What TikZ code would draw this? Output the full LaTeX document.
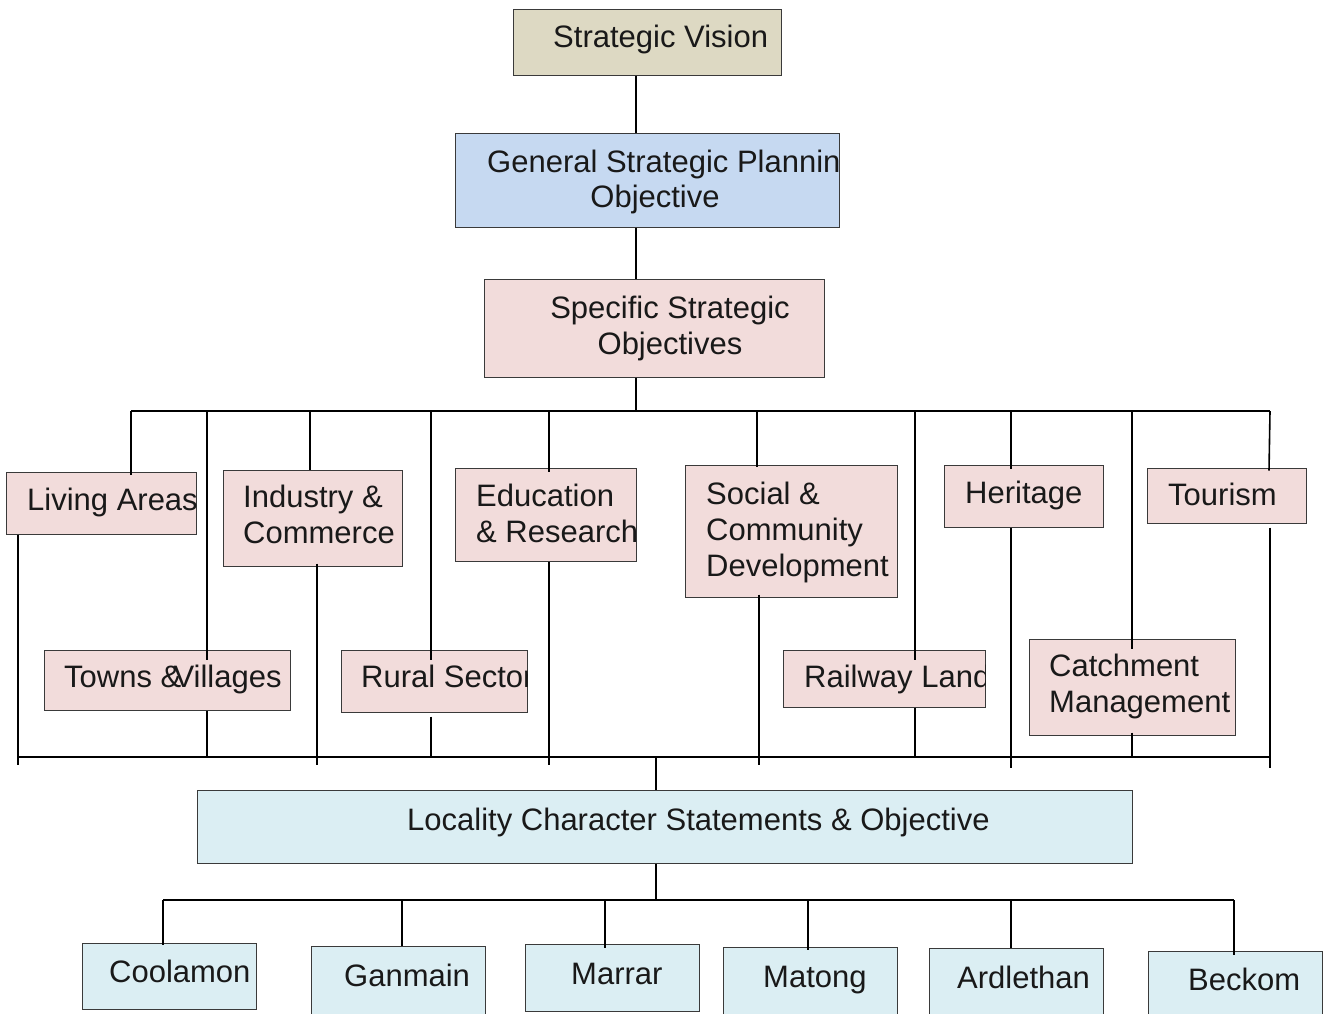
\documentclass[tikz,border=0pt]{standalone}
\usepackage{fontspec}
\setmainfont{Liberation Sans}
\usetikzlibrary{fit,calc}
\definecolor{tanc}{HTML}{DDD9C3}
\definecolor{bluec}{HTML}{C6D9F1}
\definecolor{pinkc}{HTML}{F2DCDB}
\definecolor{lbluec}{HTML}{DBEEF3}
\definecolor{edgec}{HTML}{3A3A3A}
\tikzset{
  bx/.style={draw=edgec, line width=1pt, rectangle, inner sep=0pt},
  tx/.style={font=\fontsize{31}{36}\selectfont, inner sep=0pt, anchor=base west, align=left, text=black!90},
  txc/.style={font=\fontsize{31}{36}\selectfont, inner sep=0pt, anchor=base, align=center, text=black!90},
  ln/.style={line width=1.6pt, black}
}
\begin{document}
\begin{tikzpicture}[x=1pt,y=-1pt]
\useasboundingbox (0,0) rectangle (1325,1013);
\fill[white] (0,0) rectangle (1325,1013);
% ---------- junction coordinates
\coordinate (c0) at (636,411);
\coordinate (tL) at (131,411);
\coordinate (tR) at (1270,411);
\coordinate (t2) at (207,411);
\coordinate (t3) at (310,411);
\coordinate (t4) at (431,411);
\coordinate (t5) at (549,411);
\coordinate (t6) at (757,411);
\coordinate (t7) at (915,411);
\coordinate (t8) at (1011,411);
\coordinate (t9) at (1132,411);
\coordinate (bL) at (18,757);
\coordinate (bR) at (1270,757);
\coordinate (b2) at (207,757);
\coordinate (b3) at (317,757);
\coordinate (b4) at (431,757);
\coordinate (b5) at (549,757);
\coordinate (c1) at (656,757);
\coordinate (b6) at (759,757);
\coordinate (b7) at (915,757);
\coordinate (b8) at (1011,757);
\coordinate (b9) at (1132,757);
\coordinate (c2) at (656,900);
\coordinate (lL) at (163,900);
\coordinate (lR) at (1234,900);
\coordinate (l2) at (402,900);
\coordinate (l3) at (605,900);
\coordinate (l4) at (808,900);
\coordinate (l5) at (1011,900);

% ---------- boxes
\node[bx, fill=tanc, fit={(513,9) (781,75)}] (vision) {};
\node[bx, fill=bluec, fit={(455,133) (839,227)}] (gen) {};
\node[bx, fill=pinkc, fit={(484,279) (824,377)}] (spec) {};
\node[bx, fill=pinkc, fit={(6,472) (196,534)}] (living) {};
\node[bx, fill=pinkc, fit={(223,470) (402,566)}] (industry) {};
\node[bx, fill=pinkc, fit={(455,468) (636,561)}] (edu) {};
\node[bx, fill=pinkc, fit={(685,465) (897,597)}] (social) {};
\node[bx, fill=pinkc, fit={(944,465) (1103,527)}] (heritage) {};
\node[bx, fill=pinkc, fit={(1147,468) (1306,523)}] (tourism) {};
\node[bx, fill=pinkc, fit={(44,650) (290,710)}] (towns) {};
\node[bx, fill=pinkc, fit={(341,650) (527,712)}] (rural) {};
\node[bx, fill=pinkc, fit={(783,650) (985,707)}] (railway) {};
\node[bx, fill=pinkc, fit={(1029,639) (1235,735)}] (catch) {};
\node[bx, fill=lbluec, fit={(197,790) (1132,863)}] (locality) {};
\node[bx, fill=lbluec, fit={(82,943) (256,1009)}] (coolamon) {};
\node[bx, fill=lbluec, fit={(311,946) (485,1025)}] (ganmain) {};
\node[bx, fill=lbluec, fit={(525,944) (699,1011)}] (marrar) {};
\node[bx, fill=lbluec, fit={(723,947) (897,1025)}] (matong) {};
\node[bx, fill=lbluec, fit={(929,948) (1103,1025)}] (ardlethan) {};
\node[bx, fill=lbluec, fit={(1148,951) (1322,1025)}] (beckom) {};

% ---------- texts (clipped to their boxes); multi-line nodes are placed by their last baseline
\begin{scope}\clip (vision.south west) rectangle (vision.north east);
\node[tx] (visiont) at (553,47) {Strategic Vision};\end{scope}
\begin{scope}\clip (gen.south west) rectangle (gen.north east);
\node[tx] (gent) at (487,172) {General Strategic Planning};
\node[txc] (gent2) at (655,207) {Objective};\end{scope}
\node[txc] (spect) at (670,354) {Specific Strategic\\Objectives};
\begin{scope}\clip (living.south west) rectangle (living.north east);
\node[tx] (livingt) at (27,510) {Living Areas};\end{scope}
\node[tx] (industryt) at (243,543) {Industry \&\\Commerce};
\begin{scope}\clip (edu.south west) rectangle (edu.north east);
\node[tx] (edut) at (476,542) {Education\\\& Research};\end{scope}
\node[tx] (socialt) at (706,576) {Social \&\\Community\\Development};
\node[tx] (heritaget) at (965,503) {Heritage};
\node[tx] (tourismt) at (1168,505) {Tourism};
\node[tx] (townst) at (64,687) {Towns \&\hspace{-0.25em}Villages};
\begin{scope}\clip (rural.south west) rectangle (rural.north east);
\node[tx] (ruralt) at (361,687) {Rural Sector};\end{scope}
\begin{scope}\clip (railway.south west) rectangle (railway.north east);
\node[tx] (railwayt) at (804,687) {Railway Land};\end{scope}
\begin{scope}\clip (catch.south west) rectangle (catch.north east);
\node[tx] (catcht) at (1049,712) {Catchment\\Management};\end{scope}
\node[tx] (localityt) at (407,830) {Locality Character Statements \& Objective};
\node[tx] (coolamont) at (109,982) {Coolamon};
\node[tx] (ganmaint) at (344,986) {Ganmain};
\node[tx] (marrart) at (571,984) {Marrar};
\node[tx] (matongt) at (763,987) {Matong};
\node[tx] (ardlethant) at (957,988) {Ardlethan};
\node[tx] (beckomt) at (1188,990) {Beckom};

% ---------- connectors
\draw[ln] (vision.south -| c0) -- (gen.north -| c0);
\draw[ln] (gen.south -| c0) -- (spec.north -| c0);
\draw[ln] (spec.south -| c0) -- (c0);
\draw[ln] (tL) -- (tR);
\draw[ln] (tL) -- ($(living.north -| tL)+(0,3)$);
\draw[ln] (t2) -- ($(towns.north -| t2)+(0,10)$);
\draw[ln] (t3) -- (industry.north -| t3);
\draw[ln] (t4) -- ($(rural.north -| t4)+(0,10)$);
\draw[ln] (t5) -- ($(edu.north -| t5)+(0,4)$);
\draw[ln] (t6) -- ($(social.north -| t6)+(0,2)$);
\draw[ln] (t7) -- ($(railway.north -| t7)+(0,10)$);
\draw[ln] (t8) -- ($(heritage.north -| t8)+(0,4)$);
\draw[ln] (t9) -- ($(catch.north -| t9)+(0,10)$);
\draw[ln] (tR) -- ($(tourism.north -| tR)+(-1,3)$);
% lower bus
\draw[ln] (bL) -- (bR);
\draw[ln] (living.south -| bL) -- ($(bL)+(0,8)$);
\draw[ln] (towns.south -| b2) -- (b2);
\draw[ln] ($(industry.south -| b3)+(0,-3)$) -- ($(b3)+(0,8)$);
\draw[ln] ($(rural.south -| b4)+(0,4)$) -- (b4);
\draw[ln] (edu.south -| b5) -- ($(b5)+(0,8)$);
\draw[ln] ($(social.south -| b6)+(0,-3)$) -- ($(b6)+(0,8)$);
\draw[ln] (railway.south -| b7) -- (b7);
\draw[ln] (heritage.south -| b8) -- ($(b8)+(0,11)$);
\draw[ln] ($(catch.south -| b9)+(0,-3)$) -- (b9);
\draw[ln] ($(tourism.south -| bR)+(0,4)$) -- ($(bR)+(0,11)$);
\draw[ln] (c1) -- (locality.north -| c1);
% locality bus
\draw[ln] (locality.south -| c2) -- (c2);
\draw[ln] (lL) -- (lR);
\draw[ln] (lL) -- ($(coolamon.north -| lL)+(0,2)$);
\draw[ln] (l2) -- (ganmain.north -| l2);
\draw[ln] (l3) -- ($(marrar.north -| l3)+(0,4)$);
\draw[ln] (l4) -- ($(matong.north -| l4)+(0,3)$);
\draw[ln] (l5) -- (ardlethan.north -| l5);
\draw[ln] (lR) -- ($(beckom.north -| lR)+(0,4)$);
\end{tikzpicture}
\end{document}
